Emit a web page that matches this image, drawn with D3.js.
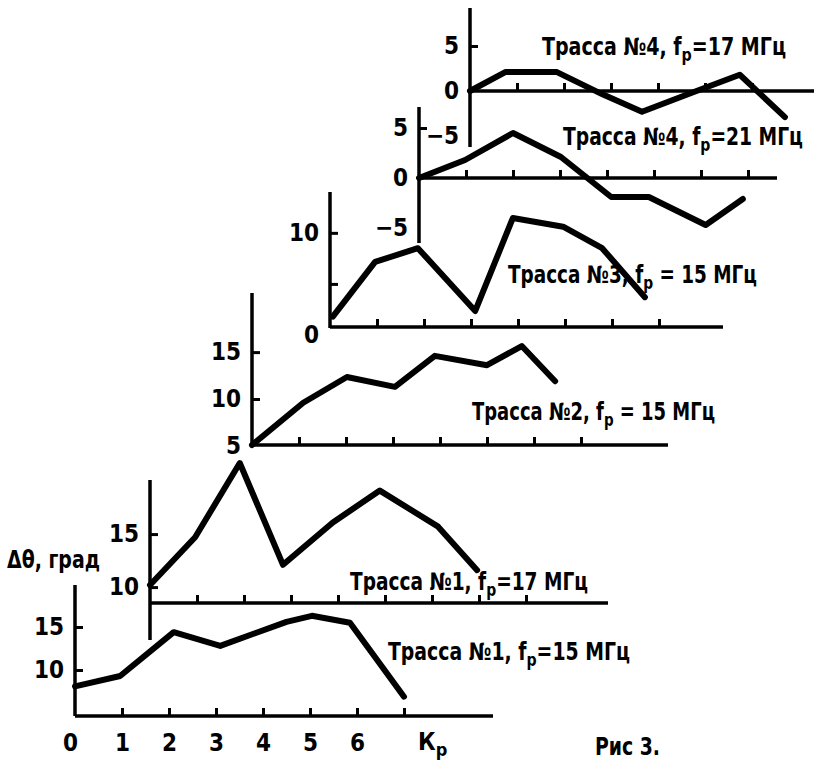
<!DOCTYPE html>
<html>
<head>
<meta charset="utf-8">
<script src="https://cdn.jsdelivr.net/npm/d3@7"></script>
<style>
  body { margin: 0; background: #fff; }
  svg text {
    font-family: "Liberation Sans Narrow", "DejaVu Sans Condensed", "Roboto Condensed", sans-serif;
    font-weight: bold;
    fill: #000;
  }
</style>
</head>
<body>
<svg id="chart" width="814" height="761"></svg>
<script>
// Δθ (град) against Kp for each route and working frequency
const kpR1f15  = [0, 0.96, 2.1, 3.09, 4.5, 5.04, 5.85, 7.0];
const dthR1f15 = [8.1, 9.3, 14.4, 12.8, 15.6, 16.3, 15.5, 6.9];

const kpR1f17  = [0, 0.96, 1.91, 2.83, 3.89, 4.89, 6.13, 6.96];
const dthR1f17 = [10.2, 14.7, 21.7, 12.1, 16.1, 19.1, 15.7, 11.6];

const kpR2f15  = [0, 1.09, 2.02, 3.04, 3.89, 5.0, 5.74, 6.45];
const dthR2f15 = [5.1, 9.6, 12.35, 11.3, 14.6, 13.6, 15.65, 11.9];

const kpR3f15  = [0.06, 0.96, 1.87, 3.09, 3.89, 4.96, 5.79, 6.7];
const dthR3f15 = [1.8, 7.15, 8.5, 2.35, 11.45, 10.6, 8.5, 3.7];

const kpR4f21  = [0, 0.98, 2.0, 3.02, 4.09, 4.89, 6.1, 6.89];
const dthR4f21 = [0, 1.8, 4.5, 2.1, -1.9, -1.9, -4.7, -2.1];

const kpR4f17  = [0, 0.75, 1.85, 2.83, 3.66, 4.72, 5.74, 6.7];
const dthR4f17 = [0, 2.1, 2.1, -0.4, -2.3, -0.2, 1.8, -2.9];

// tick labels
const kpTickLabels = ["0", "1", "2", "3", "4", "5", "6"];
const yTicksR1f15 = [10, 15];
const yTicksR1f17 = [10, 15];
const yTicksR2f15 = [5, 10, 15];
const yTicksR3f15 = [0, 5, 10];
const yTicksR4f21 = [-5, 0, 5];
const yTicksR4f17 = [-5, 0, 5];
const unlabeledTicksR3 = [5];

// curve captions: text before subscript, subscript, text after
const captionR1f15 = ["Трасса №1, f", "р", "=15 МГц"];
const captionR1f17 = ["Трасса №1, f", "р", "=17 МГц"];
const captionR2f15 = ["Трасса №2, f", "р", " = 15 МГц"];
const captionR3f15 = ["Трасса №3, f", "р", " = 15 МГц"];
const captionR4f21 = ["Трасса №4, f", "р", "=21 МГц"];
const captionR4f17 = ["Трасса №4, f", "р", "=17 МГц"];

const UNIT = 47;           // px per Kp step
const LINE_W = 6;
const AXIS_W = 3.5;
const TICK_LEN = 8;
const FONT = 24;

const svg = d3.select("#chart");

// staircase layout of the six small plots
const panels = [
  { kp: kpR1f15, dth: dthR1f15, x0: 75,  xEnd: 493, kpTicks: 7, yDomain: [4.65, 20],   yRange: [716, 584], yAxis: [585, 716], base: 4.65,
    yTicks: yTicksR1f15, caption: captionR1f15, cap: [388, 660, 242], xLabels: true },
  { kp: kpR1f17, dth: dthR1f17, x0: 150, xEnd: 608, kpTicks: 8, yDomain: [8.5, 20.1],  yRange: [603, 480], yAxis: [480, 640], base: 8.5,
    yTicks: yTicksR1f17, caption: captionR1f17, cap: [350, 590, 238] },
  { kp: kpR2f15, dth: dthR2f15, x0: 252, xEnd: 668, kpTicks: 7, yDomain: [5.1, 21.3],  yRange: [445, 293], yAxis: [293, 447], base: 5.1,
    yTicks: yTicksR2f15, caption: captionR2f15, cap: [472, 420, 243] },
  { kp: kpR3f15, dth: dthR3f15, x0: 330, xEnd: 723, kpTicks: 7, yDomain: [0.78, 14.0], yRange: [327, 192], yAxis: [192, 328], base: 0.78,
    yTicks: yTicksR3f15, caption: captionR3f15, cap: [508, 283, 249], unlabeled: unlabeledTicksR3 },
  { kp: kpR4f21, dth: dthR4f21, x0: 419, xEnd: 777, kpTicks: 7, yDomain: [-6.5, 7.1],  yRange: [243, 107], yAxis: [107, 243], base: 0,
    yTicks: yTicksR4f21, caption: captionR4f21, cap: [563, 145, 240] },
  { kp: kpR4f17, dth: dthR4f17, x0: 470, xEnd: 814, kpTicks: 6, yDomain: [-6.22, 9.22], yRange: [147, 8],  yAxis: [8, 147],   base: 0,
    yTicks: yTicksR4f17, caption: captionR4f17, cap: [542, 55, 244] }
];

function drawPanel(p) {
  const g = svg.append("g");
  const x = d3.scaleLinear().domain([0, 8]).range([p.x0, p.x0 + UNIT * 8]);
  const y = d3.scaleLinear().domain(p.yDomain).range(p.yRange);
  const yBase = y(p.base);

  // axis lines
  g.append("line")
    .attr("x1", p.x0).attr("x2", p.x0)
    .attr("y1", p.yAxis[0]).attr("y2", p.yAxis[1])
    .attr("stroke", "#000").attr("stroke-width", AXIS_W);
  g.append("line")
    .attr("x1", p.x0).attr("x2", p.xEnd)
    .attr("y1", yBase).attr("y2", yBase)
    .attr("stroke", "#000").attr("stroke-width", AXIS_W);

  // Kp ticks pointing up from the axis
  const kpVals = d3.range(0, p.kpTicks + 1);
  const xAxis = d3.axisBottom(x)
    .tickValues(kpVals)
    .tickSizeInner(-TICK_LEN).tickSizeOuter(0)
    .tickPadding(18)
    .tickFormat(d => (p.xLabels && d < kpTickLabels.length) ? kpTickLabels[d] : "");
  const gx = g.append("g").attr("transform", `translate(0,${yBase})`).call(xAxis);
  gx.select(".domain").remove();
  gx.attr("font-family", null).attr("font-size", FONT);
  gx.selectAll(".tick line").attr("stroke-width", 3)
    .filter(d => d === 0).remove();
  gx.selectAll(".tick text").filter(d => d === 0).attr("dx", -5);

  // Δθ ticks pointing right from the axis, labels on the left
  const yAxis = d3.axisLeft(y)
    .tickValues(p.yTicks)
    .tickSizeInner(-TICK_LEN).tickSizeOuter(0)
    .tickPadding(11)
    .tickFormat(d => (p.unlabeled && p.unlabeled.includes(d)) ? "" : String(d).replace("-", "\u2212"));
  const gy = g.append("g").attr("transform", `translate(${p.x0},0)`).call(yAxis);
  gy.select(".domain").remove();
  gy.attr("font-family", null).attr("font-size", FONT);
  gy.selectAll(".tick line").attr("stroke-width", 3)
    .filter(d => y(d) >= yBase - 1).remove();

  // curve
  const line = d3.line().x(d => x(d[0])).y(d => y(d[1]));
  g.append("path")
    .datum(d3.zip(p.kp, p.dth))
    .attr("d", line)
    .attr("fill", "none")
    .attr("stroke", "#000")
    .attr("stroke-width", LINE_W)
    .attr("stroke-linejoin", "round")
    .attr("stroke-linecap", "round");

  // caption
  const t = svg.append("text")
    .attr("x", p.cap[0]).attr("y", p.cap[1])
    .attr("font-size", FONT)
    .attr("textLength", p.cap[2])
    .attr("lengthAdjust", "spacingAndGlyphs");
  t.append("tspan").text(p.caption[0]);
  t.append("tspan").attr("dy", 6).attr("font-size", 18).text(p.caption[1]);
  t.append("tspan").attr("dy", -6).text(p.caption[2]);
}

panels.forEach(drawPanel);

// axis titles and figure number
svg.append("text").attr("x", 7).attr("y", 568).attr("font-size", FONT)
  .attr("textLength", 93).attr("lengthAdjust", "spacingAndGlyphs")
  .text("Δθ, град");

const kpTitle = svg.append("text").attr("x", 418).attr("y", 750).attr("font-size", FONT);
kpTitle.append("tspan").text("К");
kpTitle.append("tspan").attr("dy", 6).attr("font-size", 18).text("р");

svg.append("text").attr("x", 595).attr("y", 755).attr("font-size", FONT)
  .attr("textLength", 65).attr("lengthAdjust", "spacingAndGlyphs")
  .text("Рис 3.");
</script>
</body>
</html>
